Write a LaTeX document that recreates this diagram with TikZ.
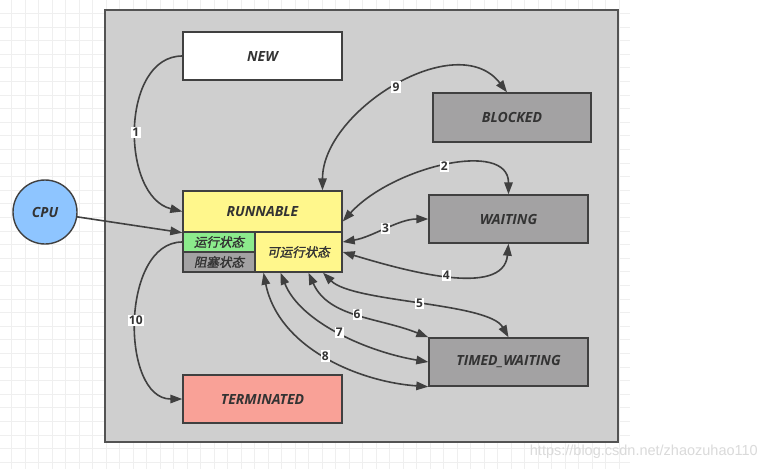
\documentclass[tikz,border=0pt]{standalone}
\usepackage{fontspec}
\setmainfont{Open Sans}
\newfontfamily\cjk[FakeSlant=0.2,FakeBold=1.5]{Noto Sans CJK SC}
\newfontfamily\wmfont{Liberation Sans}
\usetikzlibrary{arrows.meta}
\definecolor{gridc}{HTML}{EFEFEF}
\definecolor{panel}{HTML}{CFCFCF}
\definecolor{edge}{HTML}{404040}
\definecolor{ink}{HTML}{333333}
\definecolor{runyel}{HTML}{FFF78C}
\definecolor{rungreen}{HTML}{8CEB8C}
\definecolor{stategray}{HTML}{A3A2A3}
\definecolor{termred}{HTML}{F9A197}
\definecolor{cpublue}{HTML}{8EC5FF}
\definecolor{wmgray}{HTML}{DADADA}
\tikzset{
  state/.style={draw=edge, line width=1.4pt, minimum width=159pt, minimum height=48pt, inner sep=0pt, text=ink, font=\fontsize{14}{16}\selectfont\bfseries\itshape},
  substate/.style={draw=edge, line width=1.4pt, inner sep=0pt, text=ink, font=\fontsize{12.5}{14}\selectfont\cjk},
  oneway/.style={draw=edge, line width=1.6pt, line cap=round, -{Triangle[length=12pt,width=8.5pt]}},
  twoway/.style={oneway, {Triangle[length=12pt,width=8.5pt]}-{Triangle[length=12pt,width=8.5pt]}},
  num/.style={fill=white, inner sep=1.2pt, text=ink, font=\fontsize{12}{14}\selectfont\bfseries},
}

\begin{document}
\begin{tikzpicture}[x=1pt,y=-1pt]
  \useasboundingbox (0,0) rectangle (767,469);
  \fill[white] (0,0) rectangle (767,469);
  % background grid
  \foreach \gx in {11.7,25.2,...,630} \draw[gridc,line width=0.7pt] (\gx,0) -- (\gx,469);
  \foreach \gy in {13.3,26.9,...,469} \draw[gridc,line width=0.7pt] (0,\gy) -- (630,\gy);

  \draw[fill=panel, draw=edge!90, line width=1.5pt] (105,10) rectangle (618,442);

  \node[state, fill=white] (new) at (262.5,56) {NEW};
  \node[state, fill=stategray, minimum width=158pt, minimum height=49pt] (blocked) at (512,117.5) {BLOCKED};
  \node[state, fill=stategray] (waiting) at (508.5,219) {WAITING};
  \node[state, fill=stategray] (timed) at (508.5,362) {TIMED\_WAITING};
  \node[state, fill=termred] (terminated) at (262.5,399) {TERMINATED};
  \node[state, fill=runyel, minimum height=41pt] (runnable) at (262.5,211.5) {RUNNABLE};
  \node[substate, fill=rungreen, minimum width=72pt, minimum height=20pt] (running) at (219,242) {运行状态};
  \node[substate, fill=stategray, minimum width=72pt, minimum height=20pt] (blocking) at (219,262) {阻塞状态};
  \node[substate, fill=runyel, minimum width=87pt, minimum height=40pt] (ready) at (298.5,252) {可运行状态};
  \node[circle, draw=edge, line width=1.4pt, fill=cpublue, minimum size=64pt, inner sep=0pt,
        text=ink, font=\fontsize{14}{16}\selectfont\bfseries\itshape] (cpu) at (45,212) {CPU};

  \draw[oneway] (cpu) -- (runnable.south west);
  \draw[oneway] (new.west) .. controls +(-62,0) and +(-62,-15) .. (runnable.west) node[num,pos=0.52] {1};
  \draw[oneway] (running.west) .. controls +(-62,0) and +(-62,0) .. (terminated.west) node[num,pos=0.5] {10};

  \draw[twoway] ([xshift=60pt]runnable.north) .. controls +(0,-80) and +(-50,-65) .. ([xshift=-5pt]blocked.north) node[num,pos=0.5] {9};
  \draw[twoway] ([yshift=-10pt]runnable.east) .. controls +(50,-55) and +(0,-55) .. (waiting.north) node[num,pos=0.5] {2};
  \draw[twoway] ([yshift=10pt]ready.east) .. controls +(30,-5) and +(-30,0) .. (waiting.west) node[num,pos=0.5] {3};
  \draw[twoway] (ready.east) .. controls +(60,18) and +(-5,55) .. (waiting.south) node[num,pos=0.5] {4};
  \draw[twoway] ([xshift=24.5pt]ready.south) .. controls +(30,30) and +(-20,-35) .. (timed.north) node[num,pos=0.5] {5};
  \draw[twoway] ([xshift=10pt]ready.south) .. controls +(20,45) and +(-50,-20) .. (timed.north west) node[num,pos=0.5] {6};
  \draw[twoway] ([xshift=-18pt]ready.south) .. controls +(20,50) and +(-60,-10) .. (timed.west) node[num,pos=0.5] {7};
  \draw[twoway] ([xshift=-35pt]ready.south) .. controls +(15,75) and +(-70,-5) .. (timed.south west) node[num,pos=0.5] {8};

  \node[anchor=east, text=wmgray, font=\wmfont\fontsize{14.5}{16}\selectfont, inner sep=0pt] (mark) at (758,452) {https://blog.csdn.net/zhaozuhao110};
\end{tikzpicture}
\end{document}
